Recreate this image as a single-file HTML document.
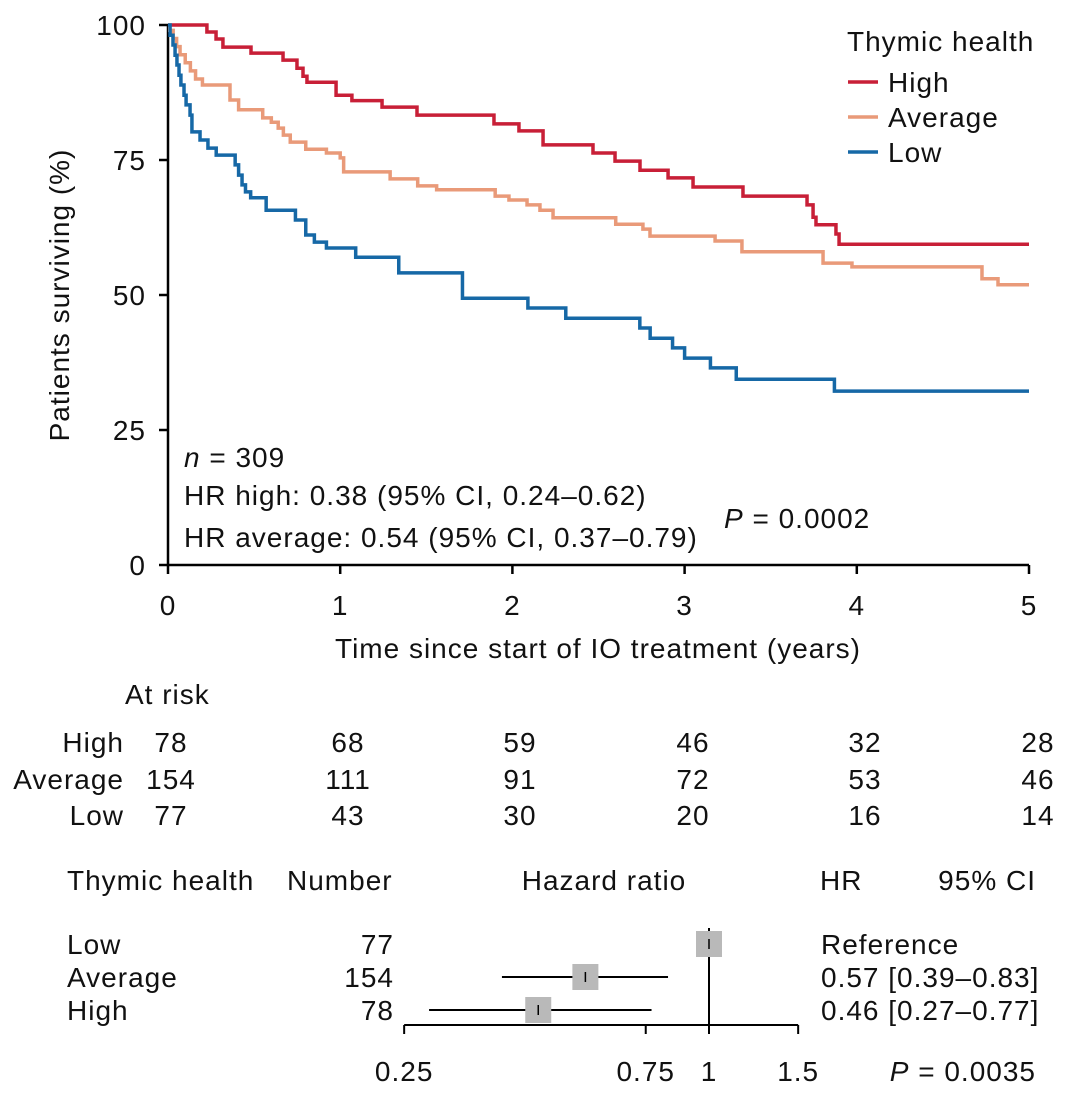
<!DOCTYPE html>
<html><head><meta charset="utf-8"><style>
body{margin:0;background:#fff}
svg{display:block;font-family:"Liberation Sans",Arial,sans-serif;font-size:28px;letter-spacing:1px;fill:#111}
</style></head><body>
<svg id="chart" width="1070" height="1096" viewBox="0 0 1070 1096" xmlns="http://www.w3.org/2000/svg">
<g id="km"></g>
<g id="risk"></g>
<g id="forest"></g>
</svg>
<script>
const seriesNames = ["High","Average","Low"];
const seriesColors = ["#c81f37","#e99a79","#1668a6"];
const highT = [0.226,0.279,0.319,0.482,0.668,0.749,0.784,0.807,0.976,1.068,1.243,1.446,1.893,2.038,2.178,2.468,2.596,2.741,2.904,3.049,3.339,3.711,3.746,3.763,3.879,3.897];
const highS = [98.7,97.4,95.9,94.8,93.5,92,90.5,89.4,87,86,84.8,83.3,81.7,80.4,77.8,76.3,74.8,73.1,71.7,70,68.3,66.7,64.4,63,61.3,59.4];
const avgT = [0.01,0.03,0.05,0.07,0.1,0.13,0.16,0.2,0.36,0.41,0.55,0.6,0.64,0.67,0.71,0.8,0.92,1.0,1.02,1.29,1.45,1.56,1.9,1.98,2.085,2.16,2.236,2.6,2.758,2.799,3.177,3.333,3.804,3.972,4.727,4.82];
const avgS = [99,97.5,96,94.5,93,91.5,90,88.9,86.1,84.3,82.8,82,80.9,79.6,78.3,77,76.3,75.4,72.8,71.5,70.2,69.5,68.3,67.6,66.7,65.7,64.3,63.1,62.2,60.9,60,58,55.9,55.2,53,51.9];
const lowT = [0.012,0.029,0.041,0.052,0.064,0.075,0.093,0.105,0.128,0.139,0.186,0.232,0.28,0.39,0.41,0.43,0.45,0.48,0.57,0.74,0.8,0.85,0.92,1.09,1.34,1.71,2.09,2.31,2.74,2.8,2.93,3.0,3.15,3.3,3.87];
const lowS = [98.1,96.3,94.4,92.6,90.7,88.9,87,85.2,83.3,80.2,78.7,77.2,75.9,74.1,72.2,70.4,69.1,68,65.7,63.9,61.1,59.8,58.7,57,54.1,49.4,47.6,45.7,43.9,42,40.2,38.3,36.5,34.4,32.2];
const xTicks = [0,1,2,3,4,5];
const yTicks = [0,25,50,75,100];
const riskHigh = [78,68,59,46,32,28];
const riskAvg = [154,111,91,72,53,46];
const riskLow = [77,43,30,20,16,14];
const forestGroups = ["Low","Average","High"];
const forestN = [77,154,78];
const forestHR = [1,0.57,0.46];
const forestLo = [null,0.39,0.28];
const forestHi = [null,0.83,0.77];
const forestText = ["Reference","0.57 [0.39–0.83]","0.46 [0.27–0.77]"];
const forestTicks = [0.25,0.75,1,1.5];

const NS="http://www.w3.org/2000/svg";
function mk(tag,attrs,parent,txt){const e=document.createElementNS(NS,tag);for(const k in attrs)e.setAttribute(k,attrs[k]);if(txt!==undefined)e.textContent=txt;parent.appendChild(e);return e;}
const X = t => 168 + t*172.2;
const Y = s => 565 - s*5.4;
const km=document.getElementById('km');

let ax=mk('path',{d:`M168 25V565H1029`,stroke:'#000','stroke-width':2.5,fill:'none'},km);


yTicks.forEach(v=>{
  let l=mk('line',{x1:159,x2:168,y1:Y(v),y2:Y(v),stroke:'#000','stroke-width':2.5},km);
  
  
  let t=mk('text',{x:146,y:Y(v)+10,'text-anchor':'end'},km,String(v));
  
  
});
xTicks.forEach(v=>{
  let l=mk('line',{x1:X(v),x2:X(v),y1:565,y2:574,stroke:'#000','stroke-width':2.5},km);
  
  
  let t=mk('text',{x:X(v),y:615,'text-anchor':'middle'},km,String(v));
  
  
});
let xt=mk('text',{x:598,y:658,'text-anchor':'middle'},km,'Time since start of IO treatment (years)');


let yt=mk('text',{x:0,y:0,'text-anchor':'middle',transform:'translate(69,295) rotate(-90)'},km,'Patients surviving (%)');



const allT=[highT,avgT,lowT], allS=[highS,avgS,lowS];
allT.forEach((ts,i)=>{
  let d=`M${X(0)} ${Y(100)}`;
  ts.forEach((t,j)=>{d+=`H${X(t)}V${Y(allS[i][j])}`;});
  d+=`H${X(5)}`;
  let p=mk('path',{d,stroke:seriesColors[i],'stroke-width':3.5,fill:'none'},km);
  
  
});

let lt=mk('text',{x:847,y:51},km,'Thymic health');


seriesNames.forEach((n,i)=>{
  const y=82+i*35;
  let g=mk('g',{},km);
  
  
  mk('line',{x1:848,x2:878,y1:y,y2:y,stroke:seriesColors[i],'stroke-width':3.5},g);
  mk('text',{x:888,y:y+10},g,n);
});

let a1=mk('text',{x:184,y:467},km); a1.innerHTML='<tspan font-style="italic">n</tspan> = 309';


let a2=mk('text',{x:184,y:505},km,'HR high: 0.38 (95% CI, 0.24–0.62)');


let a3=mk('text',{x:184,y:547},km,'HR average: 0.54 (95% CI, 0.37–0.79)');


let a4=mk('text',{x:724,y:528},km); a4.innerHTML='<tspan font-style="italic">P</tspan> = 0.0002';



const risk=document.getElementById('risk');
let rt=mk('text',{x:125,y:704},risk,'At risk');


const colX=[169,340,512,685,857,1030];
[riskHigh,riskAvg,riskLow].forEach((row,i)=>{
  const y=[752,789,825][i];
  let l=mk('text',{x:124,y,'text-anchor':'end'},risk,seriesNames[i]);
  
  
  row.forEach((v,j)=>{
    let t=mk('text',{x:colX[j]+(j>0?8:2),y,'text-anchor':'middle'},risk,String(v));
    
    
  });
});

const forest=document.getElementById('forest');
const F = v => 709 + Math.log(v)*219.9;
[["Thymic health",67,'start'],["Number",287,'start'],["Hazard ratio",604,'middle'],["HR",820,'start'],["95% CI",1036,'end']].forEach(h=>{
  let t=mk('text',{x:h[1],y:890,'text-anchor':h[2]},forest,h[0]);
  
  
});
let fa=mk('path',{d:`M${F(0.25)} 1025H${F(1.5)}`,stroke:'#000','stroke-width':2},forest);


forestTicks.forEach(v=>{
  let l=mk('line',{x1:F(v),x2:F(v),y1:1025,y2:1034,stroke:'#000','stroke-width':2},forest);
  
  
  let t=mk('text',{x:F(v),y:1081,'text-anchor':'middle'},forest,String(v));
  
  
});
let vl=mk('line',{x1:F(1),x2:F(1),y1:928,y2:1025,stroke:'#000','stroke-width':2},forest);


forestGroups.forEach((g,i)=>{
  const y=944+i*33;
  let lab=mk('text',{x:67,y:y+10},forest,g);
  
  
  let n=mk('text',{x:394,y:y+10,'text-anchor':'end'},forest,String(forestN[i]));
  
  
  if(forestLo[i]!==null){
    let ci=mk('line',{x1:F(forestLo[i]),x2:F(forestHi[i]),y1:y,y2:y,stroke:'#000','stroke-width':2},forest);
    
    
  }
  let b=mk('rect',{x:F(forestHR[i])-13,y:y-13,width:26,height:26,fill:'#b9b9b9'},forest);
  
  
  let c=mk('line',{x1:F(forestHR[i]),x2:F(forestHR[i]),y1:y-5,y2:y+5,stroke:'#000','stroke-width':1.5},forest);
  
  
  let ht=mk('text',{x:821,y:y+10},forest,forestText[i]);
  
  
});
let fp=mk('text',{x:1036,y:1081,'text-anchor':'end'},forest); fp.innerHTML='<tspan font-style="italic">P</tspan> = 0.0035';


</script>
</body></html>
